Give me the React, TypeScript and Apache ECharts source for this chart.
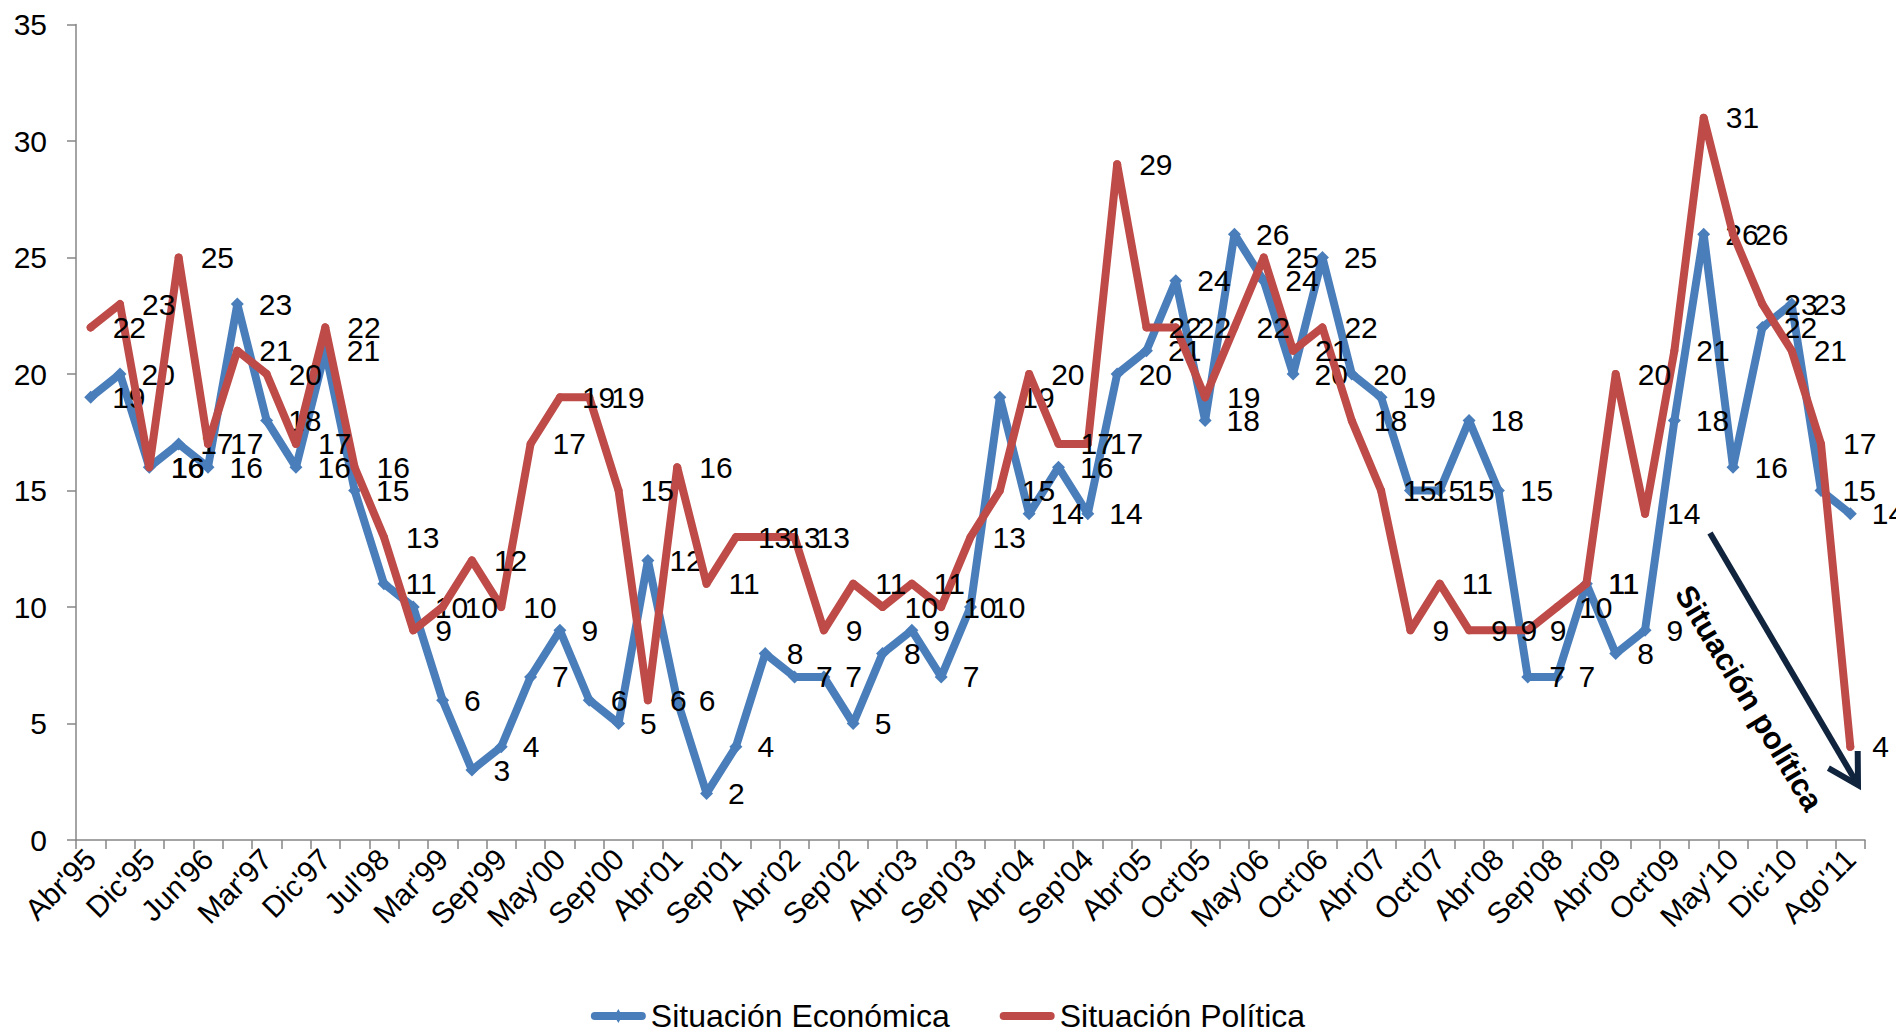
import React, { useEffect, useRef } from "react";
import * as echarts from "echarts";

const categories = [
  "Abr'95", "Ago'95", "Dic'95", "Mar'96", "Jun'96", "Oct'96", "Mar'97", "Ago'97",
  "Dic'97", "Abr'98", "Jul'98", "Nov'98", "Mar'99", "Jun'99", "Sep'99", "Dic'99",
  "May'00", "Jul'00", "Sep'00", "Dic'00", "Abr'01", "Jul'01", "Sep'01", "Dic'01",
  "Abr'02", "Jul'02", "Sep'02", "Dic'02", "Abr'03", "Jun'03", "Sep'03", "Dic'03",
  "Abr'04", "Jun'04", "Sep'04", "Dic'04", "Abr'05", "Jul'05", "Oct'05", "Dic'05",
  "May'06", "Jul'06", "Oct'06", "Dic'06", "Abr'07", "Jul'07", "Oct'07", "Dic'07",
  "Abr'08", "Jun'08", "Sep'08", "Dic'08", "Abr'09", "Jul'09", "Oct'09", "Dic'09",
  "May'10", "Ago'10", "Dic'10", "Abr'11", "Ago'11",
];

const economica = [
  19, 20, 16, 17, 16, 23, 18, 16, 21, 15,
  11, 10, 6, 3, 4, 7, 9, 6, 5, 12,
  6, 2, 4, 8, 7, 7, 5, 8, 9, 7,
  10, 19, 14, 16, 14, 20, 21, 24, 18, 26,
  24, 20, 25, 20, 19, 15, 15, 18, 15, 7,
  7, 11, 8, 9, 18, 26, 16, 22, 23, 15,
  14,
];

const politica = [
  22, 23, 16, 25, 17, 21, 20, 17, 22, 16,
  13, 9, 10, 12, 10, 17, 19, 19, 15, 6,
  16, 11, 13, 13, 13, 9, 11, 10, 11, 10,
  13, 15, 20, 17, 17, 29, 22, 22, 19, 22,
  25, 21, 22, 18, 15, 9, 11, 9, 9, 9,
  10, 11, 20, 14, 21, 31, 26, 23, 21, 17,
  4,
];

const FONT = "'Liberation Sans', Arial, Helvetica, sans-serif";
const BLUE = "#4A7EBB";
const RED = "#BE4B48";
const NAVY = "#10243E";
const GRAY = "#868686";

const BLUE_ICON =
  "path://M4,3L51,3A4,4 0 0 1 51,11L4,11A4,4 0 0 1 4,3Z M27.5,0L31.5,7L27.5,14L23.5,7Z";
const RED_ICON = "path://M4,0L51,0A4,4 0 0 1 51,8L4,8A4,4 0 0 1 4,0Z";

export default function App() {
  const ref = useRef<HTMLDivElement>(null);

  useEffect(() => {
    if (!ref.current) return;
    const chart = echarts.init(ref.current, undefined, { renderer: "svg" });

    const labelStyle = {
      show: true,
      position: "right" as const,
      color: "#000",
      fontSize: 30,
      fontFamily: FONT,
    };

    // arrow geometry (annotation)
    const ax0 = 1710, ay0 = 533, ax1 = 1858, ay1 = 785;

    chart.setOption({
      animation: false,
      textStyle: { fontFamily: FONT },
      grid: { left: 76, right: 31, top: 24.5, bottom: 194, containLabel: false },
      legend: {
        top: 995,
        left: "center",
        itemWidth: 55,
        itemHeight: 14,
        itemGap: 50,
        textStyle: { fontSize: 32, color: "#000", fontFamily: FONT },
        data: [
          { name: "Situación Económica", icon: BLUE_ICON, itemStyle: { color: BLUE } },
          { name: "Situación Política", icon: RED_ICON, itemStyle: { color: RED } },
        ],
      },
      xAxis: {
        type: "category",
        data: categories,
        boundaryGap: true,
        axisLine: { lineStyle: { color: GRAY, width: 1.5 } },
        axisTick: { show: true, interval: 0, length: 9, lineStyle: { color: GRAY, width: 1.5 } },
        axisLabel: {
          interval: 1,
          rotate: 45,
          fontSize: 30,
          color: "#000",
          fontFamily: FONT,
          margin: 14,
        },
        splitLine: { show: false },
      },
      yAxis: {
        type: "value",
        min: 0,
        max: 35,
        interval: 5,
        axisLine: { show: true, lineStyle: { color: GRAY, width: 1.5 } },
        axisTick: { show: true, length: 9, lineStyle: { color: GRAY, width: 1.5 } },
        axisLabel: { fontSize: 30, color: "#000", fontFamily: FONT, margin: 29 },
        splitLine: { show: false },
      },
      series: [
        {
          name: "Situación Económica",
          type: "line",
          data: economica,
          symbol: "diamond",
          symbolSize: 13,
          itemStyle: { color: BLUE },
          lineStyle: { color: BLUE, width: 8, cap: "round", join: "round" },
          label: { ...labelStyle, distance: 15 },
          z: 2,
        },
        {
          name: "Situación Política",
          type: "line",
          data: politica,
          symbol: "circle",
          symbolSize: 8,
          itemStyle: { color: RED },
          lineStyle: { color: RED, width: 8, cap: "round", join: "round" },
          label: { ...labelStyle, distance: 18 },
          z: 3,
        },
      ],
      graphic: [
        {
          type: "polyline",
          shape: { points: [[ax0, ay0], [ax1, ay1]] },
          style: { stroke: NAVY, lineWidth: 6, fill: null },
          z: 10,
        },
        {
          type: "polyline",
          shape: { points: [[ax1 - 0.3, ay1 - 34], [ax1, ay1], [ax1 - 29.6, ay1 - 16.8]] },
          style: { stroke: NAVY, lineWidth: 6, fill: null, lineJoin: "miter" },
          z: 10,
        },
        {
          type: "text",
          x: 1749,
          y: 698,
          rotation: (-59 * Math.PI) / 180,
          style: {
            text: "Situación política",
            fontSize: 31,
            fontWeight: "bold",
            fontFamily: FONT,
            fill: "#000",
            align: "center",
            verticalAlign: "middle",
          },
          z: 10,
        },
      ],
    });

    return () => chart.dispose();
  }, []);

  return (
    <div
      ref={ref}
      style={{ position: "fixed", left: 0, top: 0, width: 1896, height: 1034, background: "#fff" }}
    />
  );
}
